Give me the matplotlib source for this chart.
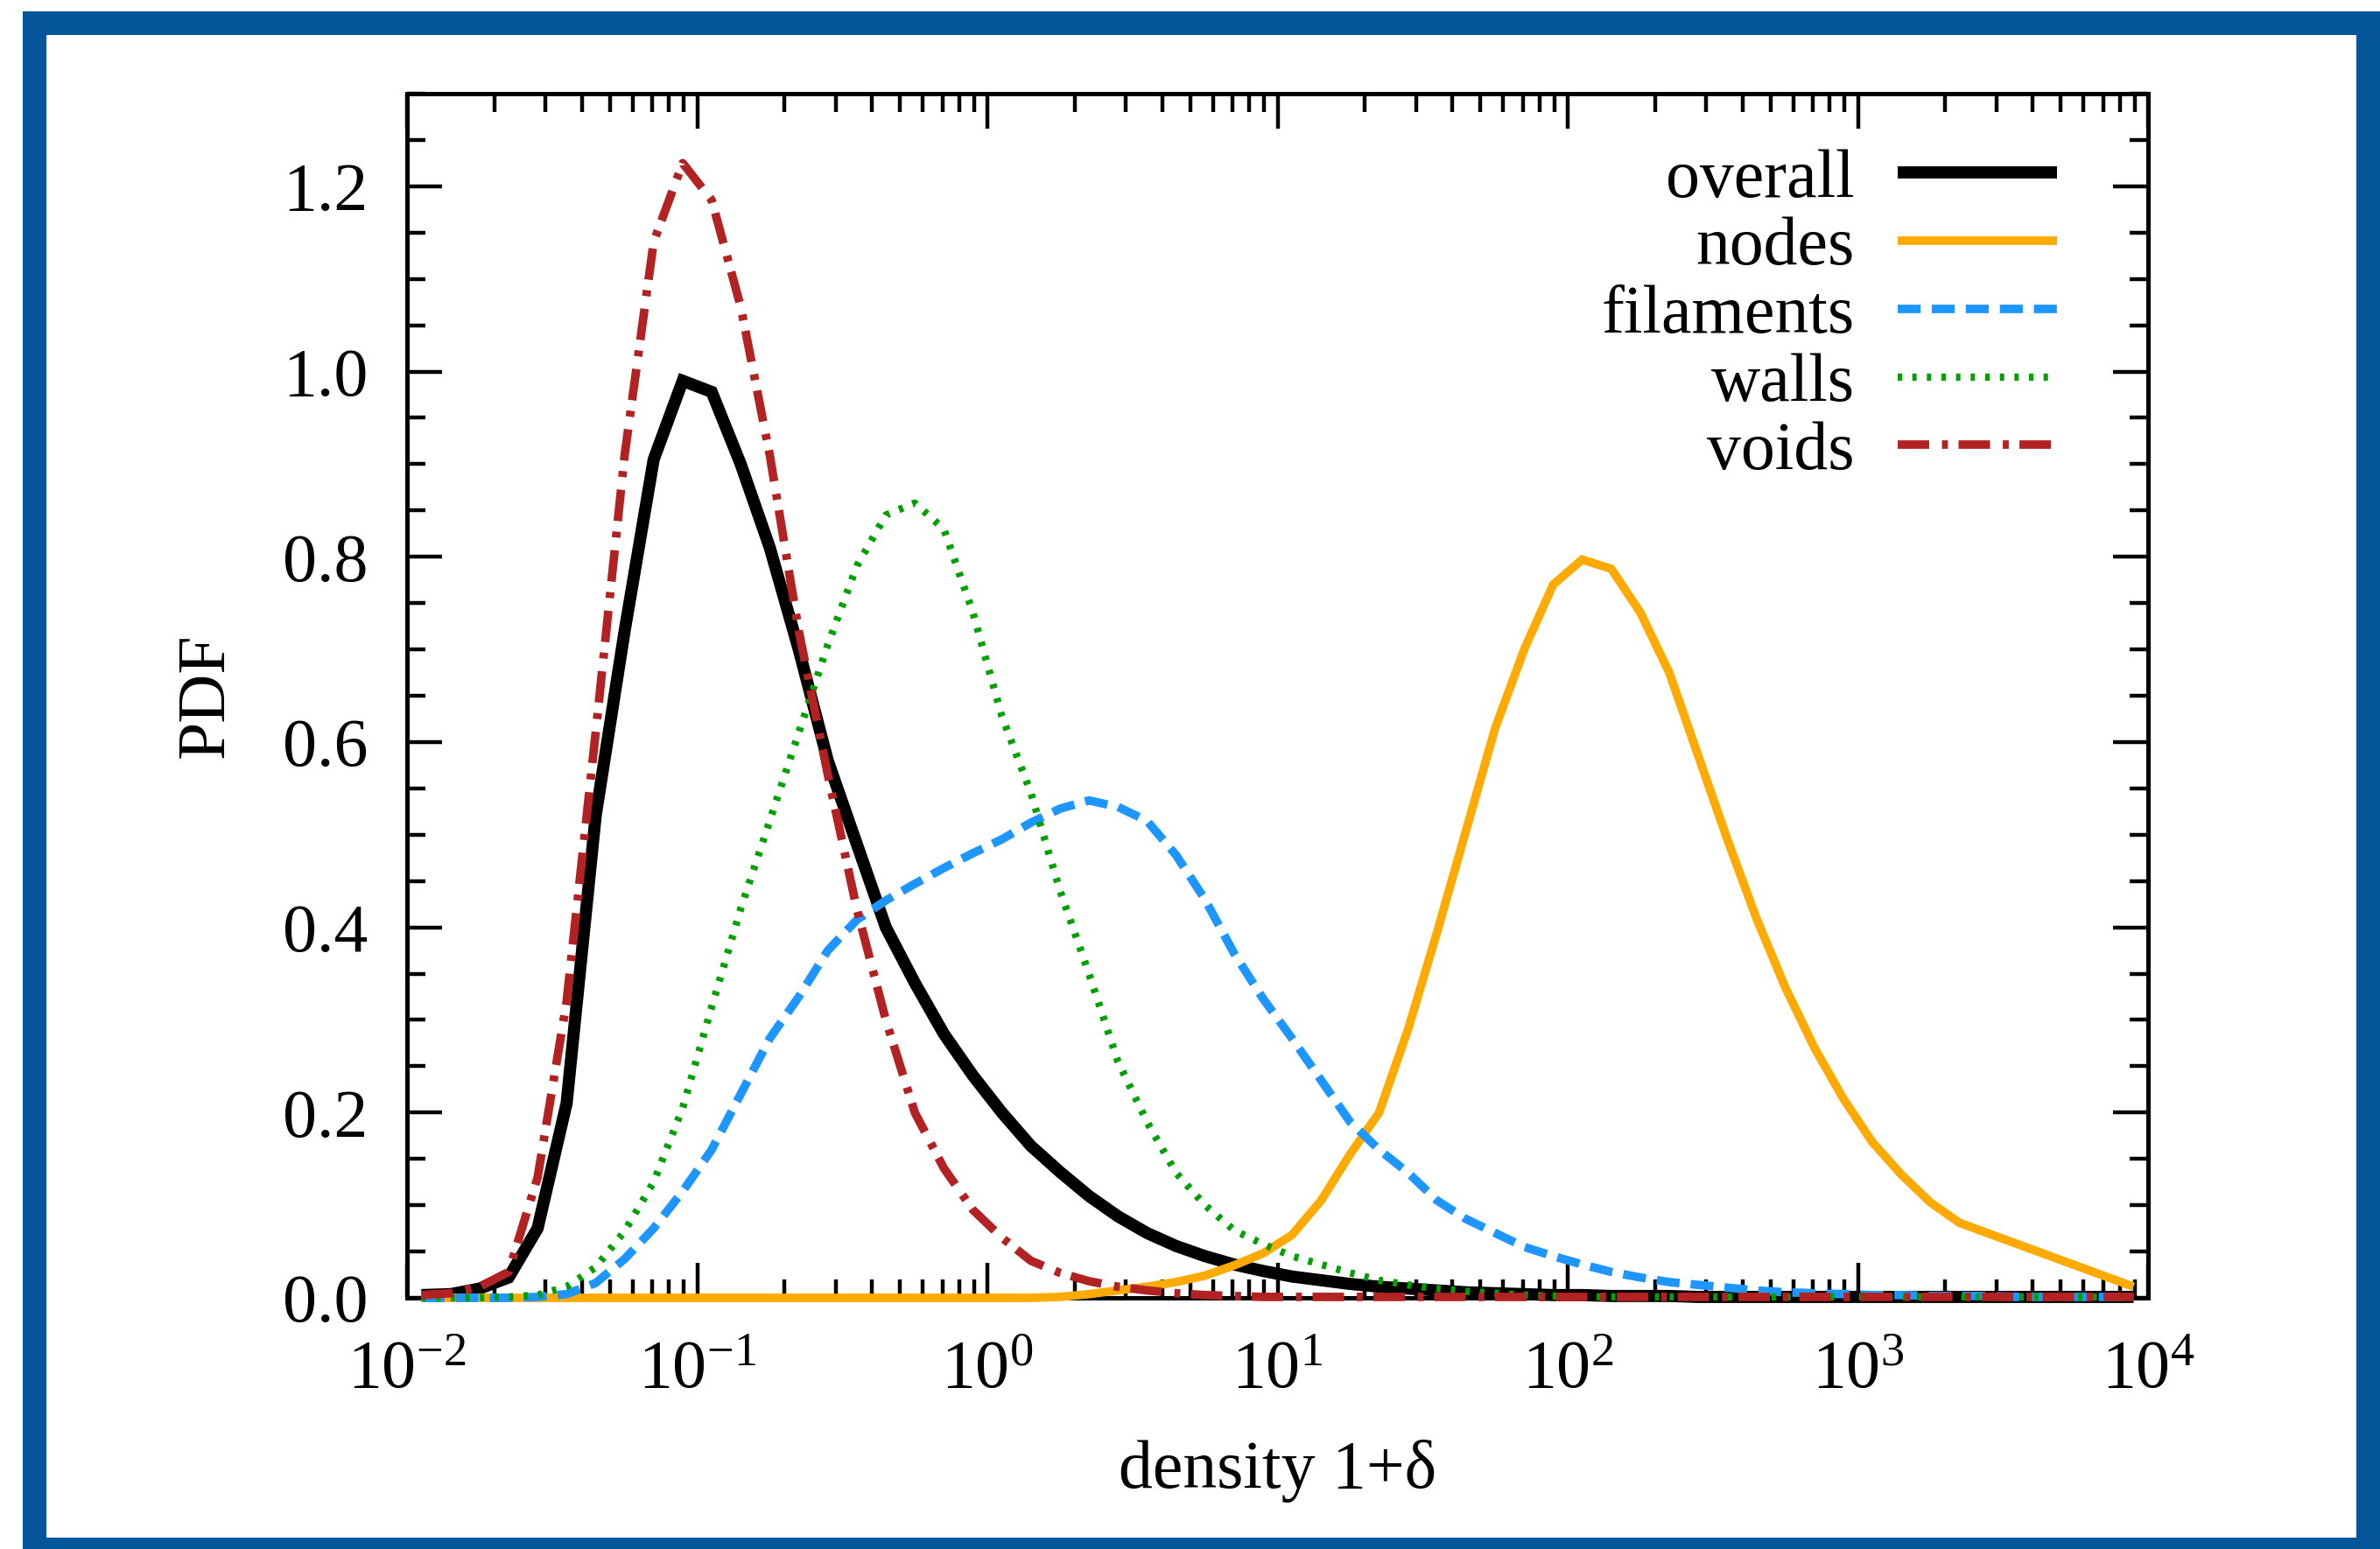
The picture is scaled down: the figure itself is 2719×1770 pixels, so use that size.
import numpy as np
import matplotlib
matplotlib.use('Agg')
import matplotlib.pyplot as plt
from matplotlib.patches import Rectangle
from matplotlib.ticker import LogLocator, MultipleLocator, FuncFormatter, NullFormatter, FixedLocator

plt.rcParams['font.family'] = ['Liberation Serif', 'DejaVu Serif']
plt.rcParams['mathtext.fontset'] = 'custom'
plt.rcParams['mathtext.rm'] = 'Liberation Serif'
plt.rcParams['mathtext.it'] = 'Liberation Serif:italic'
plt.rcParams['mathtext.bf'] = 'Liberation Serif:bold'

# ---------------- data (bin centres in log10(1+delta)) ----------------
log_density = [-1.95, -1.85, -1.75, -1.65, -1.55, -1.45, -1.35, -1.25, -1.15, -1.05,
               -0.95, -0.85, -0.75, -0.65, -0.55, -0.45, -0.35, -0.25, -0.15, -0.05,
               0.05, 0.15, 0.25, 0.35, 0.45, 0.55, 0.65, 0.75, 0.85, 0.95,
               1.05, 1.15, 1.25, 1.35, 1.45, 1.55, 1.65, 1.75, 1.85, 1.95,
               2.05, 2.15, 2.25, 2.35, 2.45, 2.55, 2.65, 2.75, 2.85, 2.95,
               3.05, 3.15, 3.25, 3.35, 3.45, 3.55, 3.65, 3.75, 3.85, 3.95]

overall = [0.003, 0.004, 0.010, 0.022, 0.075, 0.21, 0.52, 0.72, 0.905, 0.99,
           0.978, 0.90, 0.81, 0.70, 0.58, 0.49, 0.40, 0.34, 0.285, 0.24,
           0.20, 0.164, 0.136, 0.11, 0.088, 0.07, 0.056, 0.045, 0.036, 0.029,
           0.023, 0.019, 0.015, 0.012, 0.010, 0.008, 0.006, 0.005, 0.004, 0.003,
           0.003, 0.002, 0.002, 0.002, 0.001, 0.001, 0.001, 0.001, 0.001, 0.001,
           0.001, 0.001, 0.001, 0.001, 0.001, 0.001, 0.001, 0.001, 0.001, 0.001]

nodes = [0.0, 0.0, 0.0, 0.0, 0.0, 0.0, 0.0, 0.0, 0.0, 0.0,
         0.0, 0.0, 0.0, 0.0, 0.0, 0.0, 0.0, 0.0, 0.0, 0.0,
         0.0, 0.0, 0.001, 0.004, 0.008, 0.012, 0.017, 0.024, 0.035, 0.048,
         0.068, 0.105, 0.155, 0.20, 0.29, 0.395, 0.505, 0.615, 0.70, 0.77,
         0.797, 0.787, 0.74, 0.675, 0.585, 0.495, 0.41, 0.335, 0.27, 0.215,
         0.168, 0.133, 0.103, 0.081, 0.0695, 0.058, 0.0465, 0.035, 0.0235, 0.012]

filaments = [0.0, 0.0, 0.0, 0.0, 0.001, 0.004, 0.016, 0.042, 0.075, 0.115,
             0.16, 0.22, 0.28, 0.325, 0.375, 0.408, 0.429, 0.447, 0.464, 0.48,
             0.495, 0.513, 0.528, 0.537, 0.53, 0.515, 0.478, 0.43, 0.372, 0.323,
             0.28, 0.235, 0.19, 0.16, 0.135, 0.105, 0.085, 0.07, 0.055, 0.045,
             0.036, 0.028, 0.022, 0.017, 0.014, 0.011, 0.008, 0.006, 0.005, 0.004,
             0.003, 0.003, 0.002, 0.002, 0.002, 0.001, 0.001, 0.001, 0.001, 0.001]

walls = [0.0, 0.0, 0.0, 0.001, 0.003, 0.012, 0.033, 0.072, 0.125, 0.205,
         0.314, 0.42, 0.515, 0.61, 0.705, 0.79, 0.845, 0.858, 0.83, 0.74,
         0.628, 0.545, 0.44, 0.35, 0.255, 0.19, 0.135, 0.10, 0.073, 0.058,
         0.045, 0.036, 0.027, 0.019, 0.014, 0.010, 0.007, 0.005, 0.003, 0.002,
         0.001, 0.001, 0.001, 0.001, 0.001, 0.001, 0.001, 0.001, 0.001, 0.001,
         0.001, 0.001, 0.001, 0.001, 0.001, 0.001, 0.001, 0.001, 0.001, 0.001]

voids = [0.003, 0.005, 0.012, 0.028, 0.13, 0.32, 0.61, 0.91, 1.14, 1.225,
         1.185, 1.07, 0.91, 0.72, 0.565, 0.42, 0.30, 0.20, 0.14, 0.095,
         0.065, 0.04, 0.027, 0.018, 0.012, 0.008, 0.005, 0.003, 0.002, 0.001,
         0.001, 0.001, 0.001, 0.001, 0.001, 0.001, 0.001, 0.001, 0.001, 0.001,
         0.001, 0.001, 0.001, 0.001, 0.001, 0.001, 0.001, 0.001, 0.001, 0.001,
         0.001, 0.001, 0.001, 0.001, 0.001, 0.001, 0.001, 0.001, 0.001, 0.001]

labels = ['overall', 'nodes', 'filaments', 'walls', 'voids']
y_ticks = [0.0, 0.2, 0.4, 0.6, 0.8, 1.0, 1.2]
x_ticks = [1e-2, 1e-1, 1e0, 1e1, 1e2, 1e3, 1e4]

# ---------------- figure ----------------
W, H = 2719, 1770
DPI = 100
fig = plt.figure(figsize=(W / DPI, H / DPI), dpi=DPI)
fig.patch.set_facecolor('white')

BLUE = '#05559A'


def px_rect(x0, y0, x1, y1, **kw):
    return Rectangle((x0 / W, 1 - y1 / H), (x1 - x0) / W, (y1 - y0) / H,
                     transform=fig.transFigure, **kw)


fig.patches.append(px_rect(26, 13, W + 20, H + 20, facecolor=BLUE, edgecolor='none', zorder=-3))
fig.patches.append(px_rect(53, 40, 2692, 1757, facecolor='white', edgecolor='none', zorder=-2))

ax = fig.add_axes([465 / W, 1 - 1483 / H, (2454 - 465) / W, (1483 - 107) / H])
ax.set_facecolor('white')

x = 10 ** np.array(log_density)

styles = [
    dict(color='black', lw=10, ls='-'),
    dict(color='#FFAA00', lw=7, ls='-'),
    dict(color='#1E96FF', lw=7, ls=(0, (2.7, 1.3))),
    dict(color='#00A000', lw=6, ls=(0, (0.6, 1.4))),
    dict(color='#B22222', lw=7, ls=(0, (3.7, 1.5, 0.7, 1.25))),
]
series = [overall, nodes, filaments, walls, voids]
for lab, ys, st in zip(labels, series, styles):
    ax.plot(x, ys, label=lab, color=st['color'], lw=st['lw'], linestyle=st['ls'],
            dash_capstyle='butt', solid_capstyle='butt', solid_joinstyle='miter',
            clip_on=False, zorder=3)

ax.set_xscale('log')
ax.set_xlim(1e-2, 1e4)
ax.set_ylim(0, 1.3)

FS = 56
ax.xaxis.set_major_locator(FixedLocator(x_ticks))
ax.xaxis.set_minor_locator(LogLocator(base=10, subs=np.arange(2, 10), numticks=100))
ax.xaxis.set_major_formatter(FuncFormatter(lambda v, p: r'$10^{%d}$' % int(round(np.log10(v)))))
ax.xaxis.set_minor_formatter(NullFormatter())
ax.yaxis.set_major_locator(FixedLocator(y_ticks))
ax.yaxis.set_minor_locator(MultipleLocator(0.05))
ax.yaxis.set_major_formatter(FuncFormatter(lambda v, p: '%.1f' % v))

ax.tick_params(which='both', direction='in', top=True, right=True, width=3.2, colors='black')
ax.tick_params(which='major', length=29)
ax.tick_params(which='minor', length=15)
ax.tick_params(axis='x', which='major', pad=34, labelsize=FS)
ax.tick_params(axis='y', which='major', pad=32, labelsize=FS)
for sp in ax.spines.values():
    sp.set_linewidth(3.6)
    sp.set_zorder(2.5)

ax.set_xlabel(u'density 1+\u03b4', fontsize=FS)
ax.set_ylabel('PDF', fontsize=FS)
ax.xaxis.set_label_coords(0.5, -0.118)
ax.yaxis.set_label_coords(-0.097, 0.5)

leg = ax.legend(loc='upper right', bbox_to_anchor=(0.9633, 0.9767), borderaxespad=0,
                frameon=False, markerfirst=False, fontsize=FS, handlelength=2.34,
                handletextpad=0.63, labelspacing=0.08, borderpad=0.4)

fig.savefig('out.png', dpi=DPI, facecolor='white')
